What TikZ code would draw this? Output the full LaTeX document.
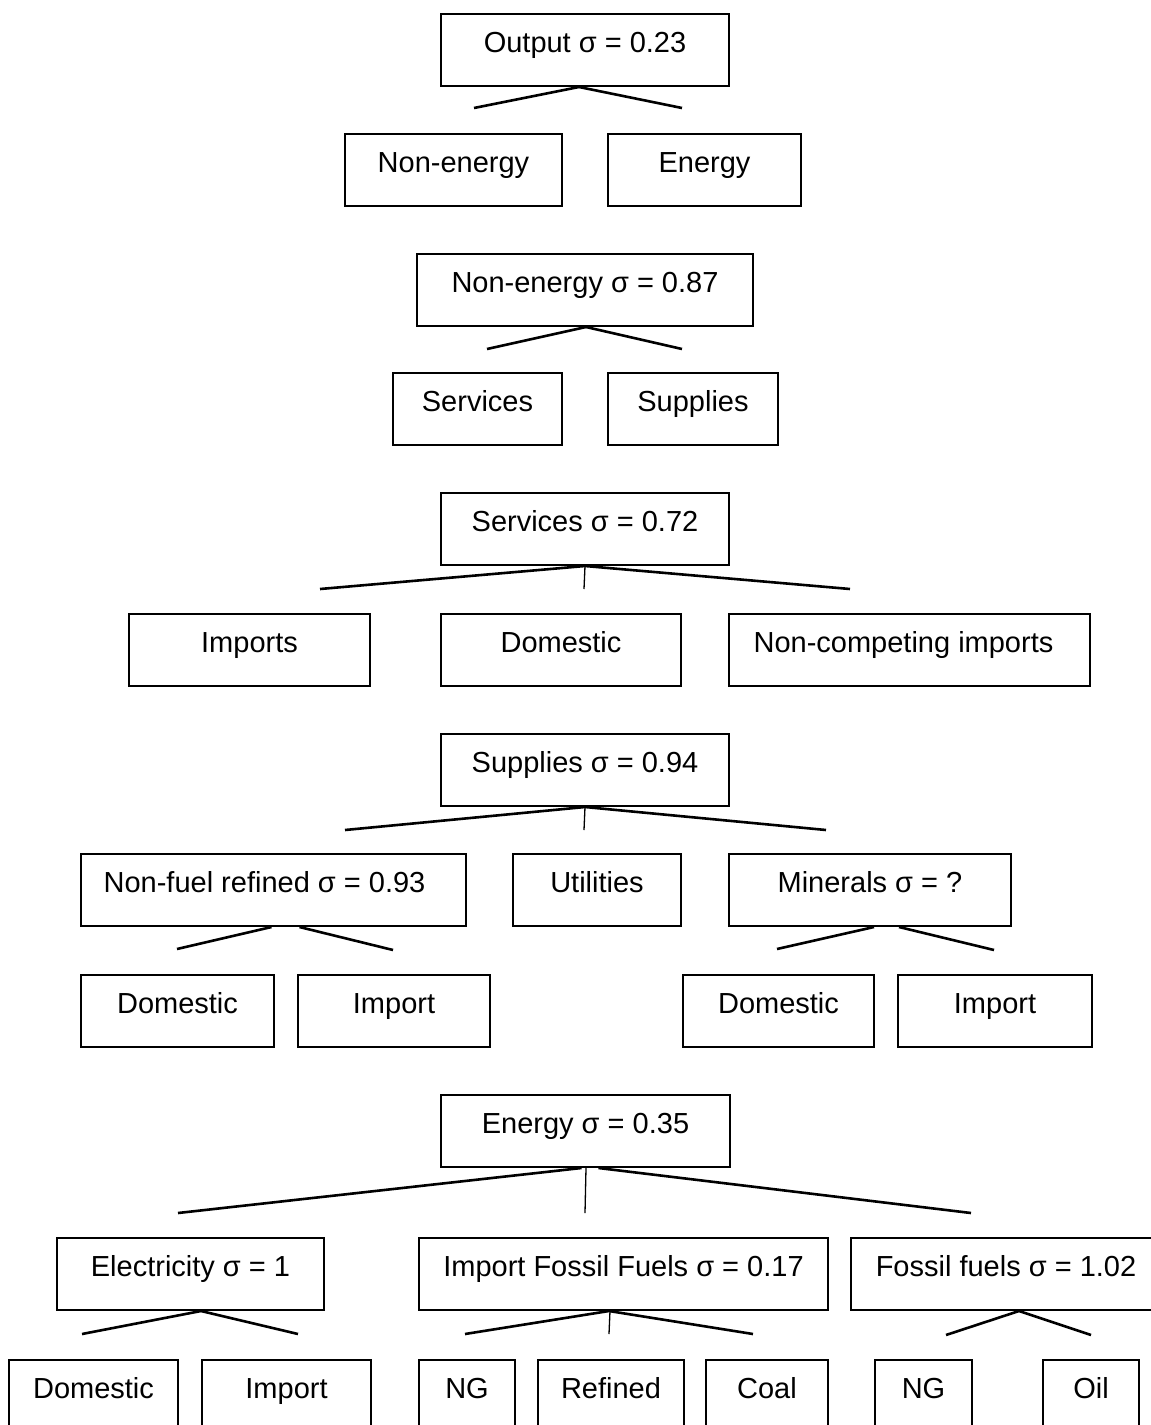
\documentclass[tikz,border=0pt]{standalone}
\usepackage{fontspec}
\setmainfont{Liberation Sans}
\begin{document}
\begin{tikzpicture}[x=1pt,y=-1pt,
  box/.style={draw, line width=2pt, anchor=north west, inner xsep=0pt, inner ysep=0pt,
              text height=38pt, text depth=34pt, font=\fontsize{29}{34}\selectfont},
  openbox/.style={box, text depth=120pt},
  link/.style={line width=2.6pt},
  stem/.style={line width=1.3pt}]
\clip (0,0) rectangle (1151,1425);

% Output nest
\node[box, minimum width=288pt] (out) at (440,13) {Output σ = 0.23};
\node[box, minimum width=217pt] (ne) at (344,133) {Non-energy};
\node[box, minimum width=193pt] (en) at (607,133) {Energy};
\coordinate (outL) at (474,108);
\coordinate (outR) at (682,108);
\draw[link] ([xshift=-6pt]out.south) -- (outL);
\draw[link] ([xshift=-6pt]out.south) -- (outR);

% Non-energy nest
\node[box, minimum width=336pt] (ne2) at (416,253) {Non-energy σ = 0.87};
\node[box, minimum width=169pt] (sv) at (392,372) {Services};
\node[box, minimum width=170pt] (sp) at (607,372) {Supplies};
\coordinate (ne2L) at (487,349);
\coordinate (ne2R) at (682,349);
\draw[link] ([xshift=1pt]ne2.south) -- (ne2L);
\draw[link] ([xshift=1pt]ne2.south) -- (ne2R);

% Services nest
\node[box, minimum width=288pt] (sv2) at (440,492) {Services σ = 0.72};
\node[box, minimum width=241pt] (svi) at (128,613) {Imports};
\node[box, minimum width=240pt] (svd) at (440,613) {Domestic};
\node[box, minimum width=361pt] (svn) at (728,613) {\hspace*{-12pt}Non-competing imports};
\coordinate (sv2L) at (320,589);
\coordinate (sv2M) at (584,589);
\coordinate (sv2R) at (850,589);
\draw[link] (sv2.south) -- (sv2L);
\draw[stem] (sv2.south) -- (sv2M);
\draw[link] (sv2.south) -- (sv2R);

% Supplies nest
\node[box, minimum width=288pt] (sp2) at (440,733) {Supplies σ = 0.94};
\node[box, minimum width=385pt] (nf) at (80,853) {\hspace*{-18pt}Non-fuel refined σ = 0.93};
\node[box, minimum width=168pt] (ut) at (512,853) {Utilities};
\node[box, minimum width=282pt] (mn) at (728,853) {Minerals σ = ?};
\coordinate (sp2L) at (345,830);
\coordinate (sp2M) at (584,830);
\coordinate (sp2R) at (826,830);
\draw[link] (sp2.south) -- (sp2L);
\draw[stem] (sp2.south) -- (sp2M);
\draw[link] (sp2.south) -- (sp2R);

% Non-fuel refined and minerals nests
\node[box, minimum width=193pt] (nfd) at (80,974) {Domestic};
\node[box, minimum width=192pt] (nfi) at (297,974) {Import};
\node[box, minimum width=191pt] (mnd) at (682,974) {Domestic};
\node[box, minimum width=194pt] (mni) at (897,974) {Import};
\coordinate (nfL) at (177,949);
\coordinate (nfR) at (393,950);
\coordinate (mnL) at (777,949);
\coordinate (mnR) at (994,950);
\draw[link] ([xshift=-2pt]nf.south) -- (nfL);
\draw[link] ([xshift=26pt]nf.south) -- (nfR);
\draw[link] ([xshift=4pt]mn.south) -- (mnL);
\draw[link] ([xshift=29pt]mn.south) -- (mnR);

% Energy nest
\node[box, minimum width=289pt] (en2) at (440,1094) {Energy σ = 0.35};
\node[box, minimum width=267pt] (el) at (56,1237) {Electricity σ = 1};
\node[box, minimum width=409pt] (iff) at (418,1237) {Import Fossil Fuels σ = 0.17};
\node[box, minimum width=310pt] (ff) at (850,1237) {Fossil fuels σ = 1.02};
\coordinate (en2L) at (178,1213);
\coordinate (en2M) at (585,1213);
\coordinate (en2R) at (971,1213);
\draw[link] ([xshift=-4pt]en2.south) -- (en2L);
\draw[stem] ([xshift=0.5pt]en2.south) -- (en2M);
\draw[link] ([xshift=13pt]en2.south) -- (en2R);

% Bottom level
\node[openbox, minimum width=169pt] (eld) at (8,1359) {Domestic};
\node[openbox, minimum width=169pt] (eli) at (201,1359) {Import};
\node[openbox, minimum width=96pt] (ing) at (418,1359) {NG};
\node[openbox, minimum width=146pt] (irf) at (537,1359) {Refined};
\node[openbox, minimum width=122pt] (ico) at (705,1359) {Coal};
\node[openbox, minimum width=97pt] (fng) at (874,1359) {NG};
\node[openbox, minimum width=96pt] (foi) at (1042,1359) {Oil};
\coordinate (elL) at (82,1334);
\coordinate (elR) at (298,1334);
\coordinate (iffL) at (465,1334);
\coordinate (iffM) at (609,1334);
\coordinate (iffR) at (753,1334);
\coordinate (ffL) at (946,1335);
\coordinate (ffR) at (1091,1335);
\draw[link] ([xshift=10.5pt]el.south) -- (elL);
\draw[link] ([xshift=10.5pt]el.south) -- (elR);
\draw[link] ([xshift=-14.5pt]iff.south) -- (iffL);
\draw[stem] ([xshift=-13.5pt]iff.south) -- (iffM);
\draw[link] ([xshift=-14.5pt]iff.south) -- (iffR);
\draw[link] ([xshift=13pt]ff.south) -- (ffL);
\draw[link] ([xshift=13pt]ff.south) -- (ffR);
\end{tikzpicture}
\end{document}
